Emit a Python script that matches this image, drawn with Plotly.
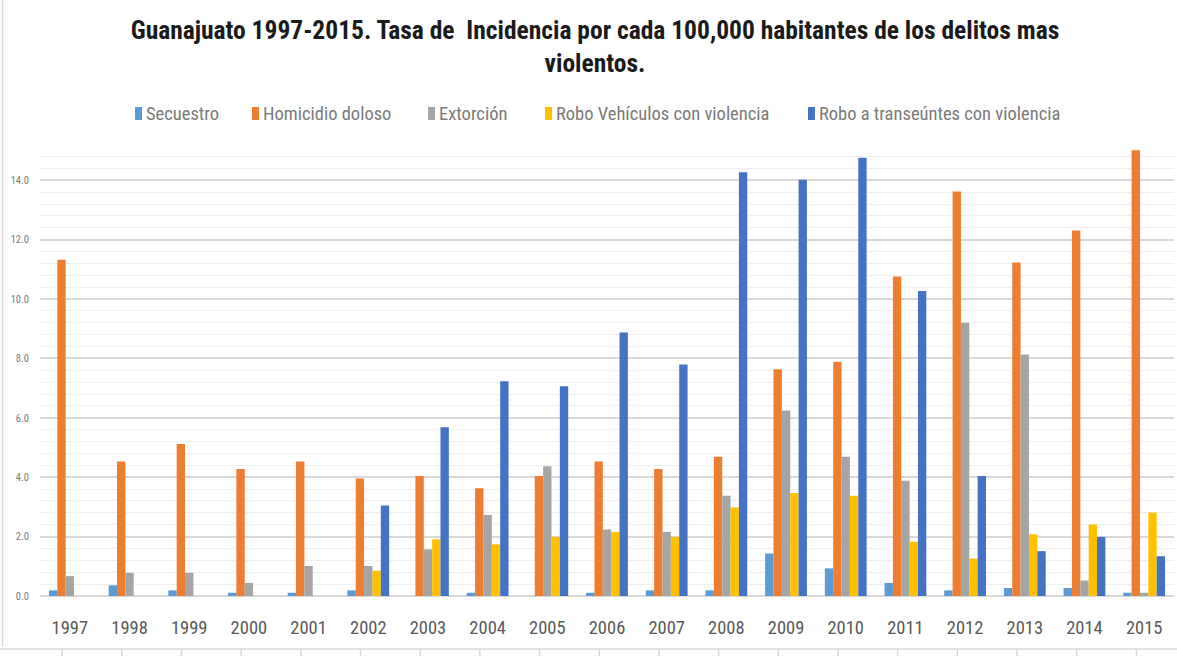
import plotly.graph_objects as go

years = list(range(1997, 2016))
year_labels = [str(y) for y in years]

secuestro = [0.19, 0.36, 0.19, 0.11, 0.11, 0.19, 0.0, 0.11, 0.0, 0.11,
             0.19, 0.19, 1.43, 0.93, 0.44, 0.19, 0.27, 0.27, 0.11]
homicidio = [11.32, 4.53, 5.12, 4.28, 4.53, 3.96, 4.04, 3.63, 4.04, 4.53,
             4.28, 4.69, 7.64, 7.89, 10.76, 13.62, 11.23, 12.31, 15.01]
extorsion = [0.67, 0.78, 0.78, 0.44, 1.01, 1.01, 1.57, 2.73, 4.37, 2.24,
             2.16, 3.38, 6.25, 4.69, 3.88, 9.20, 8.13, 0.52, 0.11]
robo_vehiculos = [0.0, 0.0, 0.0, 0.0, 0.0, 0.85, 1.91, 1.74, 1.99, 2.16,
                  1.99, 2.98, 3.47, 3.38, 1.83, 1.26, 2.08, 2.41, 2.81]
robo_transeuntes = [0.0, 0.0, 0.0, 0.0, 0.0, 3.05, 5.68, 7.23, 7.06, 8.87,
                    7.80, 14.27, 14.02, 14.76, 10.27, 4.04, 1.51, 1.99, 1.34]

series_names = ["Secuestro", "Homicidio doloso", "Extorción",
                "Robo Vehículos con violencia", "Robo a transeúntes con violencia"]
series_values = [secuestro, homicidio, extorsion, robo_vehiculos, robo_transeuntes]
series_colors = ["#5B9BD5", "#ED7D31", "#A5A5A5", "#FFC000", "#4472C4"]

y_ticks = [0, 2, 4, 6, 8, 10, 12, 14]
y_tick_text = [f"{v:.1f}" for v in y_ticks]

FONT = "Liberation Sans Narrow, Roboto Condensed, Arial Narrow, sans-serif"
GREY = "#595959"
LINE = "#d9d9d9"

W, H = 1177, 656
M = dict(l=40, r=3, t=150, b=60)
PW, PH = W - M["l"] - M["r"], H - M["t"] - M["b"]


def px(x):
    """horizontal pixel -> paper fraction"""
    return (x - M["l"]) / PW


def py(y):
    """vertical pixel (from top) -> paper fraction"""
    return (H - M["b"] - y) / PH


fig = go.Figure()
for name, vals, color in zip(series_names, series_values, series_colors):
    fig.add_trace(go.Bar(x=years, y=vals, name=name, marker_color=color,
                         marker_line_width=0, showlegend=False))

shapes = []
annotations = []

# legend row: narrow colour swatch followed by the series name
legend_left = [135, 252, 428, 545, 808]
for left, name, color in zip(legend_left, series_names, series_colors):
    shapes.append(dict(type="rect", xref="paper", yref="paper",
                       x0=px(left), x1=px(left + 7), y0=py(120), y1=py(107),
                       fillcolor=color, line=dict(width=0)))
    annotations.append(dict(text=name, xref="paper", yref="paper",
                            x=px(left + 9), y=py(114), xanchor="left",
                            yanchor="middle", showarrow=False,
                            font=dict(family=FONT, size=18.5, color="#7a7a7a")))

# chart frame: left border and the bottom strip with category separators
shapes.append(dict(type="line", xref="paper", yref="paper", x0=px(0), x1=px(W),
                   y0=py(649), y1=py(649), line=dict(color=LINE, width=1.5)))
shapes.append(dict(type="line", xref="paper", yref="paper", x0=px(2.5), x1=px(2.5),
                   y0=py(647), y1=py(0), line=dict(color=LINE, width=1.5)))
for y in years:
    shapes.append(dict(type="line", xref="x", yref="paper",
                       x0=y - 0.13, x1=y - 0.13, y0=py(649), y1=py(H),
                       line=dict(color=LINE, width=1.5)))

fig.update_layout(
    width=W, height=H,
    margin=M,
    paper_bgcolor="white", plot_bgcolor="white",
    barmode="group", bargap=0.3, bargroupgap=0,
    font=dict(family=FONT, color=GREY),
    title=dict(
        text="<b>Guanajuato 1997-2015. Tasa de  Incidencia por cada 100,000 habitantes de los delitos mas<br>violentos.</b>",
        x=595 / W, xanchor="center", xref="container",
        y=1 - 39 / H, yref="container", yanchor="middle",
        font=dict(family=FONT, size=25.5, color="#1a1a1a"),
    ),
    xaxis=dict(tickmode="array", tickvals=years, ticktext=year_labels,
               range=[1996.5, 2015.5], showgrid=False, zeroline=False,
               showline=False, ticks="", ticklabelstandoff=18,
               tickfont=dict(family=FONT, size=18.5, color=GREY)),
    yaxis=dict(range=[0, 15.02], tickmode="array", tickvals=y_ticks,
               ticktext=y_tick_text, showgrid=True, gridcolor=LINE,
               gridwidth=1.5, zeroline=True, zerolinecolor=LINE,
               zerolinewidth=1.5, showline=False, ticks="",
               ticklabelstandoff=10,
               tickfont=dict(family=FONT, size=10.5, color="#7a7a7a"),
               minor=dict(dtick=0.4, tick0=0, showgrid=True,
                          gridcolor="#efefef", gridwidth=1)),
    shapes=shapes,
    annotations=annotations,
    showlegend=False,
)

fig.write_html("out.html")
